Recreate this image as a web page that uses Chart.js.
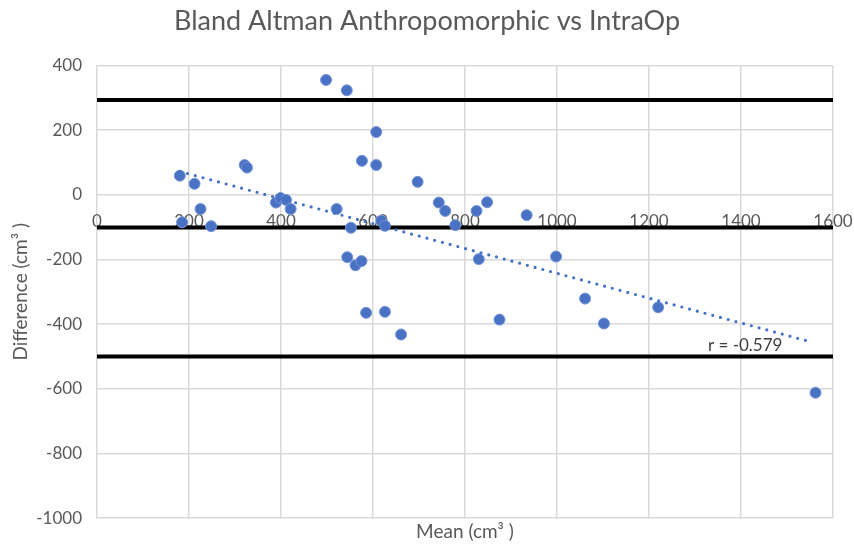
<!DOCTYPE html>
<html>
<head>
<meta charset="utf-8">
<script src="https://cdn.jsdelivr.net/npm/chart.js@4"></script>
<style>
  html, body { margin: 0; padding: 0; background: #fff; }
  #wrap { width: 854px; height: 546px; position: relative; }
</style>
</head>
<body>
<div id="wrap"><canvas id="blandChart"></canvas></div>
<script>
const meanValues = [180, 212, 225, 248, 185, 321, 326, 389, 399, 411,
                    421, 498, 543, 607, 576, 607, 521, 552, 618, 626,
                    544, 562, 575, 585, 626, 661, 697, 743, 757, 779,
                    825, 848, 934, 830, 998, 875, 1061, 1102, 1220, 1562];
const diffValues = [59, 34, -44, -97, -85, 92, 84, -24, -10, -16,
                    -44, 355, 323, 194, 105, 92, -44, -102, -80, -96,
                    -193, -218, -205, -365, -362, -432, 40, -24, -50, -94,
                    -50, -23, -63, -199, -191, -386, -321, -398, -348, -612];

// linie: srednia roznica i granice zgodnosci
const limitValues = [293, -101, -500];
const limitRange = [0, 1600];

// linia trendu (koncowki)
const trendX = [180, 1550];
const trendY = [72, -454];
const trendLabel = 'r = -0.579';
const trendLabelAt = { x: 1328, y: -466 };

const xTicks = { min: 0, max: 1600, step: 200 };
const yTicks = { min: -1000, max: 400, step: 200 };

const FONT = 'Lato, "Open Sans", sans-serif';
const TEXT = '#595959';

const scatterData = meanValues.map((m, i) => ({ x: m, y: diffValues[i] }));
const trendData = trendX.map((x, i) => ({ x: x, y: trendY[i] }));

const limitSets = limitValues.map(v => ({
    type: 'line',
    data: limitRange.map(x => ({ x: x, y: v })),
    borderColor: '#000',
    borderWidth: 4,
    pointRadius: 0,
    fill: false,
    order: 3
}));

// napis z r obok linii trendu
const rLabelPlugin = {
    id: 'rLabel',
    afterDatasetsDraw(chart) {
        const c = chart.ctx;
        const x = chart.scales.x.getPixelForValue(trendLabelAt.x);
        const y = chart.scales.y.getPixelForValue(trendLabelAt.y);
        c.save();
        c.font = '17px ' + FONT;
        c.fillStyle = '#404040';
        c.textAlign = 'left';
        c.textBaseline = 'middle';
        c.fillText(trendLabel, x, y);
        c.restore();
    }
};

const plainTick = v => String(v);
// margines z prawej robi os x, zeby tytul byl na srodku calego obrazka
const xSidePadding = s => { s.paddingLeft = 0; s.paddingRight = 21; };

const ctx = document.getElementById('blandChart').getContext('2d');
new Chart(ctx, {
    type: 'scatter',
    data: {
        datasets: [
            {
                type: 'line',
                data: trendData,
                borderColor: '#4472C4',
                borderWidth: 3.2,
                borderDash: [0, 8],
                borderCapStyle: 'round',
                pointRadius: 0,
                fill: false,
                order: 1
            },
            {
                data: scatterData,
                backgroundColor: '#4a72c4',
                borderColor: '#7594d6',
                borderWidth: 1,
                pointRadius: 5.5,
                order: 2
            },
            ...limitSets
        ]
    },
    options: {
        responsive: true,
        maintainAspectRatio: false,
        animation: false,
        layout: { padding: 0 },
        plugins: {
            legend: { display: false },
            tooltip: { enabled: false },
            title: {
                display: true,
                text: 'Bland Altman Anthropomorphic vs IntraOp',
                color: TEXT,
                font: { family: FONT, size: 27, weight: 'normal' },
                padding: { top: 5, bottom: 28 }
            }
        },
        scales: {
            x: {
                type: 'linear',
                position: { y: 0 },
                min: xTicks.min,
                max: xTicks.max,
                ticks: {
                    stepSize: xTicks.step,
                    color: TEXT,
                    font: { family: FONT, size: 17 },
                    padding: 17,
                    maxRotation: 0,
                    callback: plainTick
                },
                grid: { color: '#d9d9d9', lineWidth: 1.5, drawTicks: false },
                border: { display: false },
                afterFit: xSidePadding
            },
            x2: {
                type: 'linear',
                position: 'bottom',
                min: xTicks.min,
                max: xTicks.max,
                ticks: { display: false },
                grid: { display: false, drawTicks: false },
                border: { display: false },
                title: {
                    display: true,
                    text: 'Mean (cm³ )',
                    color: TEXT,
                    font: { family: FONT, size: 19 },
                    padding: { top: 2, bottom: 3 }
                },
                afterFit: xSidePadding
            },
            y: {
                type: 'linear',
                min: yTicks.min,
                max: yTicks.max,
                ticks: {
                    stepSize: yTicks.step,
                    color: TEXT,
                    font: { family: FONT, size: 17 },
                    padding: 15,
                    callback: plainTick
                },
                grid: { color: '#d9d9d9', lineWidth: 1.5, drawTicks: false },
                border: { display: false },
                title: {
                    display: true,
                    text: 'Difference (cm³ )',
                    color: TEXT,
                    font: { family: FONT, size: 19 },
                    padding: { top: 9, bottom: 0 }
                },
                afterFit: s => { s.width = 97; }
            }
        }
    },
    plugins: [rLabelPlugin]
});
</script>
</body>
</html>
